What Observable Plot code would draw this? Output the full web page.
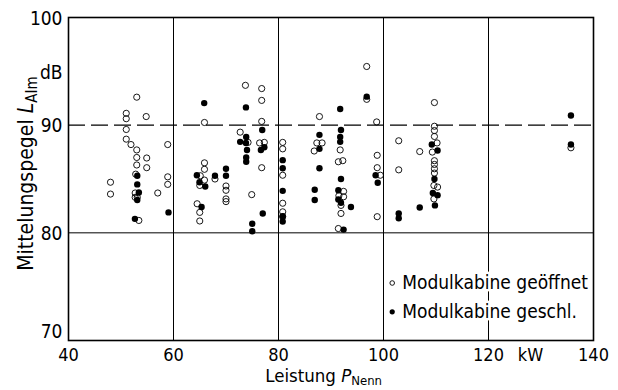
<!DOCTYPE html>
<html><head><meta charset="utf-8">
<script src="https://cdn.jsdelivr.net/npm/d3@7"></script>
<script src="https://cdn.jsdelivr.net/npm/@observablehq/plot@0.6"></script>
<style>body{margin:0;background:#fff}</style>
</head><body><div id="chart"></div>
<script>
// Modulkabine geöffnet (open circles): [Leistung kW, Mittelungspegel dB]
const openX = [53.0,51.0,51.0,54.8,65.9,51.0,51.0,51.9,53.0,53.0,54.9,54.9,53.0,58.9,52.8,58.9,58.9,48.0,48.0,57.0,52.7,52.7,53.1,53.4,
  65.9,65.9,65.9,65.1,65.0,64.5,65.0,65.0,67.9,70.0,70.0,70.0,70.0,72.7,73.7,76.8,76.8,76.8,74.2,76.4,77.3,76.8,74.9,
  80.8,80.8,80.8,80.8,80.8,80.8,87.8,87.3,88.3,86.8,91.75,91.4,92.25,92.4,92.4,91.5,91.9,91.9,91.4,
  96.8,96.8,98.7,98.8,98.8,99.4,98.8,102.9,102.9,106.9,109.7,109.7,109.7,109.7,110.2,109.3,109.7,109.7,109.7,109.7,109.6,110.3,109.6,135.7];
const openY = [92.6,91.1,90.6,90.8,90.25,89.6,88.7,88.2,87.7,87.0,86.95,86.05,86.3,88.2,85.45,85.2,84.5,84.7,83.6,83.7,83.7,83.3,83.3,81.15,
  84.9,86.5,85.9,85.3,84.4,82.7,81.9,81.1,85.0,84.35,83.95,83.15,82.9,89.35,93.7,93.4,92.3,90.35,88.4,88.35,88.4,86.05,83.55,
  88.4,87.8,85.35,82.75,81.95,81.5,90.8,88.35,88.35,87.6,87.7,86.6,86.7,83.85,83.35,83.45,82.55,81.8,80.4,
  95.45,92.4,90.3,87.2,86.05,85.35,81.5,88.55,85.85,87.55,92.1,89.9,89.5,88.95,88.35,87.5,86.7,86.35,85.95,85.55,84.4,84.25,83.15,87.9];
// Modulkabine geschlossen (filled dots)
const closedX = [53.1,53.1,53.4,53.1,52.65,59.05,65.85,64.45,64.95,66.05,65.35,67.9,70.0,70.0,72.7,73.8,73.85,73.8,74.0,73.85,73.85,
  76.9,76.65,77.3,77.0,75.0,75.0,80.8,80.8,80.8,80.8,80.8,87.8,87.8,87.8,86.9,86.9,91.75,91.9,91.75,91.75,91.9,91.4,91.4,91.9,93.8,92.4,
  96.8,98.5,98.9,102.9,102.9,109.2,110.3,109.7,109.4,110.3,109.8,106.9,135.7,135.7];
const closedY = [85.3,84.5,83.75,83.05,81.3,81.9,92.05,85.35,84.7,84.3,82.4,85.3,85.95,85.3,88.45,91.65,88.9,88.35,87.7,87.0,86.6,
  89.55,87.7,87.95,81.8,80.85,80.15,86.75,86.0,83.9,81.55,81.05,89.1,87.8,86.0,84.0,83.05,91.5,89.55,88.9,88.45,85.0,83.95,83.1,82.8,82.4,80.3,
  92.65,85.35,84.65,81.8,81.35,88.2,87.65,85.0,83.7,83.5,82.55,82.35,90.9,88.2];

const xTicks = [40,60,80,100,120,140];
const yTicks = [80,90,100];
const yLow = [70];
const gridX = [60,80,100,120];
const gridY = [80];
const refY = [90];
const legendLabels = ["Modulkabine geöffnet","Modulkabine geschl."];
const yTitle = "Mittelungspegel LAIm";
const xTitle = "Leistung PNenn";

const openData = openX.map((x,i)=>({x, y: openY[i]}));
const closedData = closedX.map((x,i)=>({x, y: closedY[i]}));
const FONT = "'DejaVu Sans Condensed', 'DejaVu Sans', sans-serif";

const chart = Plot.plot({
  width: 618, height: 390,
  marginLeft: 68, marginRight: 25, marginTop: 17, marginBottom: 50,
  style: {fontFamily: FONT, background: "#fff"},
  x: {domain: [40,140], axis: null},
  y: {domain: [70,100], axis: null},
  marks: [
    Plot.ruleX(gridX, {stroke: "#000", strokeWidth: 1}),
    Plot.ruleY(gridY, {stroke: "#000", strokeWidth: 1}),
    Plot.ruleY(refY, {stroke: "#000", strokeWidth: 1.3, strokeDasharray: "17,6"}),
    Plot.frame({stroke: "#000", strokeWidth: 1.6}),
    Plot.dot(openData, {x: "x", y: "y", r: 3.1, stroke: "#000", strokeWidth: 0.9, fill: "none"}),
    Plot.dot(closedData, {x: "x", y: "y", r: 3.2, fill: "#000", stroke: "none"}),
    // tick labels
    Plot.text(xTicks, {x: d=>d, y: 70, dy: 15, text: d=>String(d), fontSize: 18, fill: "#000"}),
    Plot.text(yTicks, {x: 40, y: d=>d, dx: -6, dy: 1, textAnchor: "end", text: d=>String(d), fontSize: 19, fill: "#000"}),
    Plot.text(yLow, {x: 40, y: d=>d, dx: -6, dy: -9, textAnchor: "end", text: d=>String(d), fontSize: 19, fill: "#000"}),
    Plot.text(["dB"], {x: 40, y: 94.9, dx: -6, textAnchor: "end", fontSize: 19, fill: "#000"}),
    Plot.text(["kW"], {x: 128, y: 70, dy: 15, fontSize: 18, fill: "#000"}),
    // axis titles
    Plot.text([xTitle], {x: 88.6, y: 70, dy: 36, fontSize: 18.5, fill: "#000"}),
    Plot.text([yTitle], {x: 40, y: 85.5, dx: -42, rotate: -90, fontSize: 21, fill: "#000"}),
    // legend
    Plot.dot([0], {x: 101.66, y: 75.34, r: 2.3, stroke: "#000", strokeWidth: 0.9, fill: "none"}),
    Plot.dot([0], {x: 101.66, y: 72.66, r: 2.6, fill: "#000"}),
    Plot.text([legendLabels[0]], {x: 101.66, y: 75.34, dx: 10, textAnchor: "start", fontSize: 19, fill: "#000", stroke: "#fff", strokeWidth: 5}),
    Plot.text([legendLabels[1]], {x: 101.66, y: 72.66, dx: 10, textAnchor: "start", fontSize: 19, fill: "#000", stroke: "#fff", strokeWidth: 5})
  ]
});

// Add italic symbol and subscripts to the axis titles
d3.select(chart).selectAll("text").each(function(){
  const t = this.textContent;
  let parts = null, sub = 13, shift = 3;
  if (t === yTitle) { parts = ["Mittelungspegel ", "L", "AIm"]; sub = 15; shift = 4; }
  if (t === xTitle) { parts = ["Leistung ", "P", "Nenn"]; }
  if (!parts) return;
  const el = d3.select(this);
  el.text(null);
  el.append("tspan").text(parts[0]);
  el.append("tspan").attr("font-style", "italic").text(parts[1]);
  el.append("tspan").attr("font-size", sub).attr("dy", shift).text(parts[2]);
});

document.getElementById("chart").appendChild(chart);
</script>
</body></html>
